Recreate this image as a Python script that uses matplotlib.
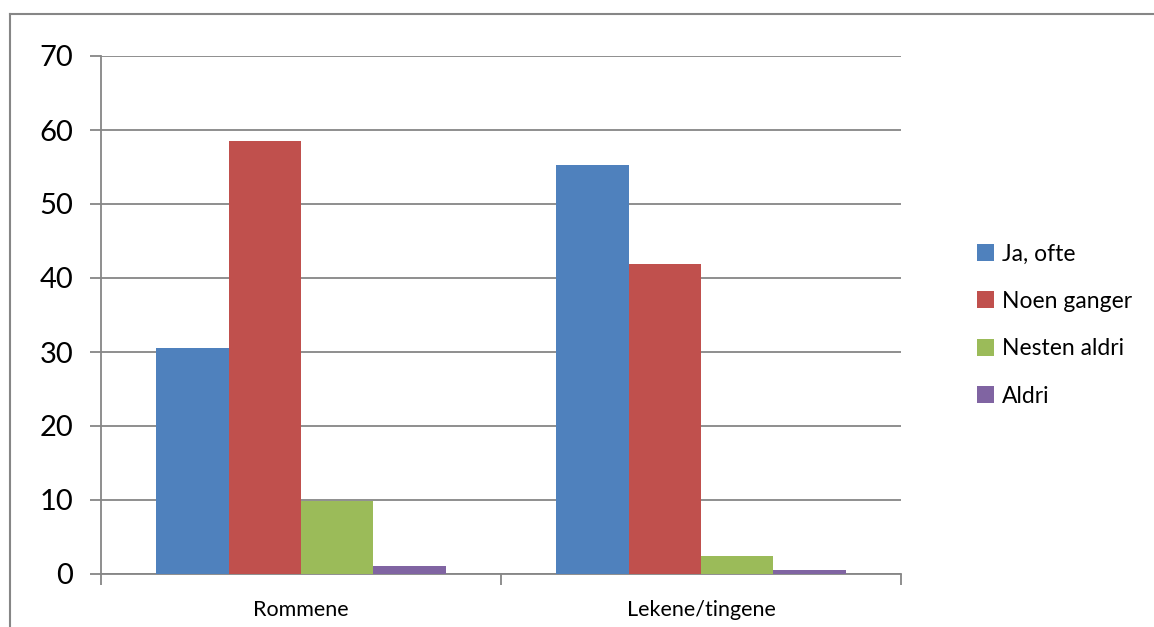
import numpy as np
import matplotlib
matplotlib.use("Agg")
import matplotlib.pyplot as plt
from matplotlib.lines import Line2D

categories = ["Rommene", "Lekene/tingene"]
series_names = ["Ja, ofte", "Noen ganger", "Nesten aldri", "Aldri"]
ja_ofte = [30.5, 55.3]
noen_ganger = [58.5, 41.9]
nesten_aldri = [9.8, 2.4]
aldri = [1.1, 0.6]
colors = ["#4F81BD", "#C0504D", "#9BBB59", "#8064A2"]

plt.rcParams['font.family'] = ['Lato', 'DejaVu Sans']

fig = plt.figure(figsize=(11.54, 6.27), dpi=100)
W, H = 1154, 627
# plot area in pixels: x 101..901, y 56..574
ax = fig.add_axes([101 / W, 1 - 574 / H, 800 / W, 518 / H])

grid_c = "#868686"
values = [ja_ofte, noen_ganger, nesten_aldri, aldri]
x = np.arange(len(categories))
bw = 0.1807
for i, (vals, name) in enumerate(zip(values, series_names)):
    ax.bar(x - 1.5 * bw + i * bw, vals, width=bw, color=colors[i], label=name, zorder=3)

ax.set_xlim(-0.5, 1.5)
ax.set_ylim(0, 70)
ax.set_yticks(range(0, 71, 10))
ax.set_xticks([-0.5, 0.5, 1.5])
ax.set_xticklabels([])
ax.set_xticks(x, minor=True)
ax.set_xticklabels(categories, minor=True, fontsize=15.5)
ax.tick_params(axis='x', which='minor', length=0, pad=19)
ax.tick_params(axis='x', which='major', length=8, color=grid_c, width=1.3)
ax.tick_params(axis='y', length=8, color=grid_c, width=1.3, labelsize=21, pad=12)
ax.yaxis.grid(True, color=grid_c, linewidth=1.3, zorder=0)
for s in ["top", "right"]:
    ax.spines[s].set_visible(False)
for s in ["left", "bottom"]:
    ax.spines[s].set_color(grid_c)
    ax.spines[s].set_linewidth(1.3)

leg = fig.legend(loc="center left", bbox_to_anchor=(956 / W, 1 - 325 / H), frameon=False,
                 fontsize=16.5, handlelength=0.75, handleheight=0.75, handletextpad=0.35,
                 labelspacing=1.15)

# outer chart border (cut off on right and bottom)
fig.add_artist(Line2D([10 / W, 10 / W], [0, 1 - 14 / H], color=grid_c, linewidth=1.5, transform=fig.transFigure))
fig.add_artist(Line2D([10 / W, 1], [1 - 14 / H, 1 - 14 / H], color=grid_c, linewidth=1.5, transform=fig.transFigure))

fig.savefig("out.png", dpi=100)
